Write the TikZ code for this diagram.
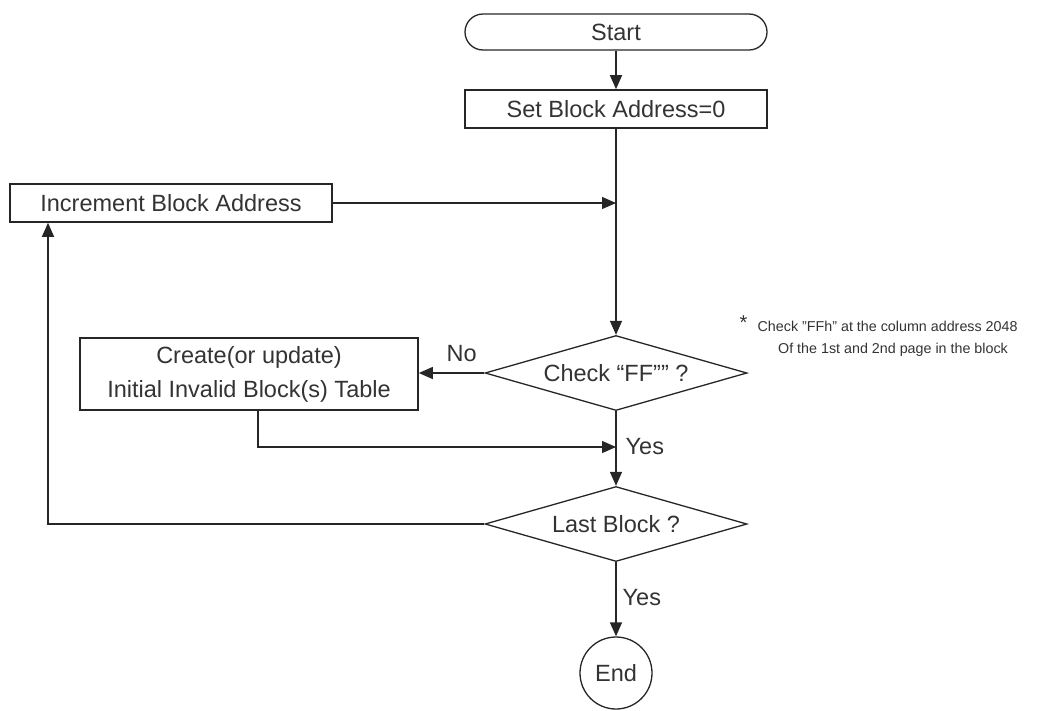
\documentclass[tikz,border=0pt]{standalone}
\usepackage{fontspec}
\setmainfont{Liberation Sans}
\usetikzlibrary{shapes.geometric,arrows.meta}
\begin{document}
\begin{tikzpicture}[x=1pt,y=-1pt,
  line width=1.3pt, draw=black!85, text=black!80,
  every node/.style={font=\fontsize{23.5}{27}\selectfont},
  proc/.style={draw, rectangle, inner sep=0pt, line width=1.6pt},
  decision/.style={draw, diamond, inner sep=0pt, aspect=3.54, minimum width=262pt, minimum height=75pt},
  term/.style={draw, rectangle, rounded corners=18pt, inner sep=0pt, minimum width=302pt, minimum height=36pt},
  endc/.style={draw, circle, inner sep=0pt, minimum size=72pt},
  arr/.style={-{Triangle[length=14pt,width=12pt]}},
  lab/.style={inner sep=0pt, anchor=west},
  note/.style={font=\fontsize{14.3}{17}\selectfont, inner sep=0pt}]
\useasboundingbox (0,0) rectangle (1051,710);
\node[term] (start) at (616,32) {Start};
\node[proc, minimum width=302pt, minimum height=38pt] (set) at (616,109) {Set Block Address=0};
\node[proc, minimum width=322pt, minimum height=38pt] (inc) at (171,203) {Increment Block Address};
\node[decision] (check) at (616,373) {Check “FF”” ?};
\node[proc, minimum width=338pt, minimum height=72pt, align=center, font=\fontsize{23.5}{34}\selectfont] (create) at (249,374) {Create(or update)\\Initial Invalid Block(s) Table};
\node[decision] (last) at (616,524) {Last Block ?};
\node[endc] (end) at (616,673) {End};
\coordinate (j1) at (616,203);
\coordinate (j2) at (616,447);
\coordinate (c1) at (258,447);
\coordinate (l1) at (48,524);
\draw[arr] (start) -- (set);
\draw[arr] (set) -- (check);
\draw[arr] (inc.east |- j1) -- (j1);
\draw[arr] (check.west) -- (create.east |- check.west);
\draw[arr] (create.south -| c1) -- (c1) -- (j2);
\draw[arr] (check) -- (last);
\draw[arr] (last.west) -- (l1) -- (l1 |- inc.south);
\draw[arr] (last) -- (end);
\node[lab] (no) at (446,354) {No};
\node[lab] (yes1) at (625,447) {Yes};
\node[lab] (yes2) at (622,598) {Yes};
\node[note, anchor=west, font=\fontsize{20}{20}\selectfont] (star) at (739,323) {*};
\node[note, anchor=west] (n1) at (757,326) {Check "FFh" at the column address 2048};
\node[note] (n2) at (893,350) {Of the 1st and 2nd page in the block};
\end{tikzpicture}
\end{document}
